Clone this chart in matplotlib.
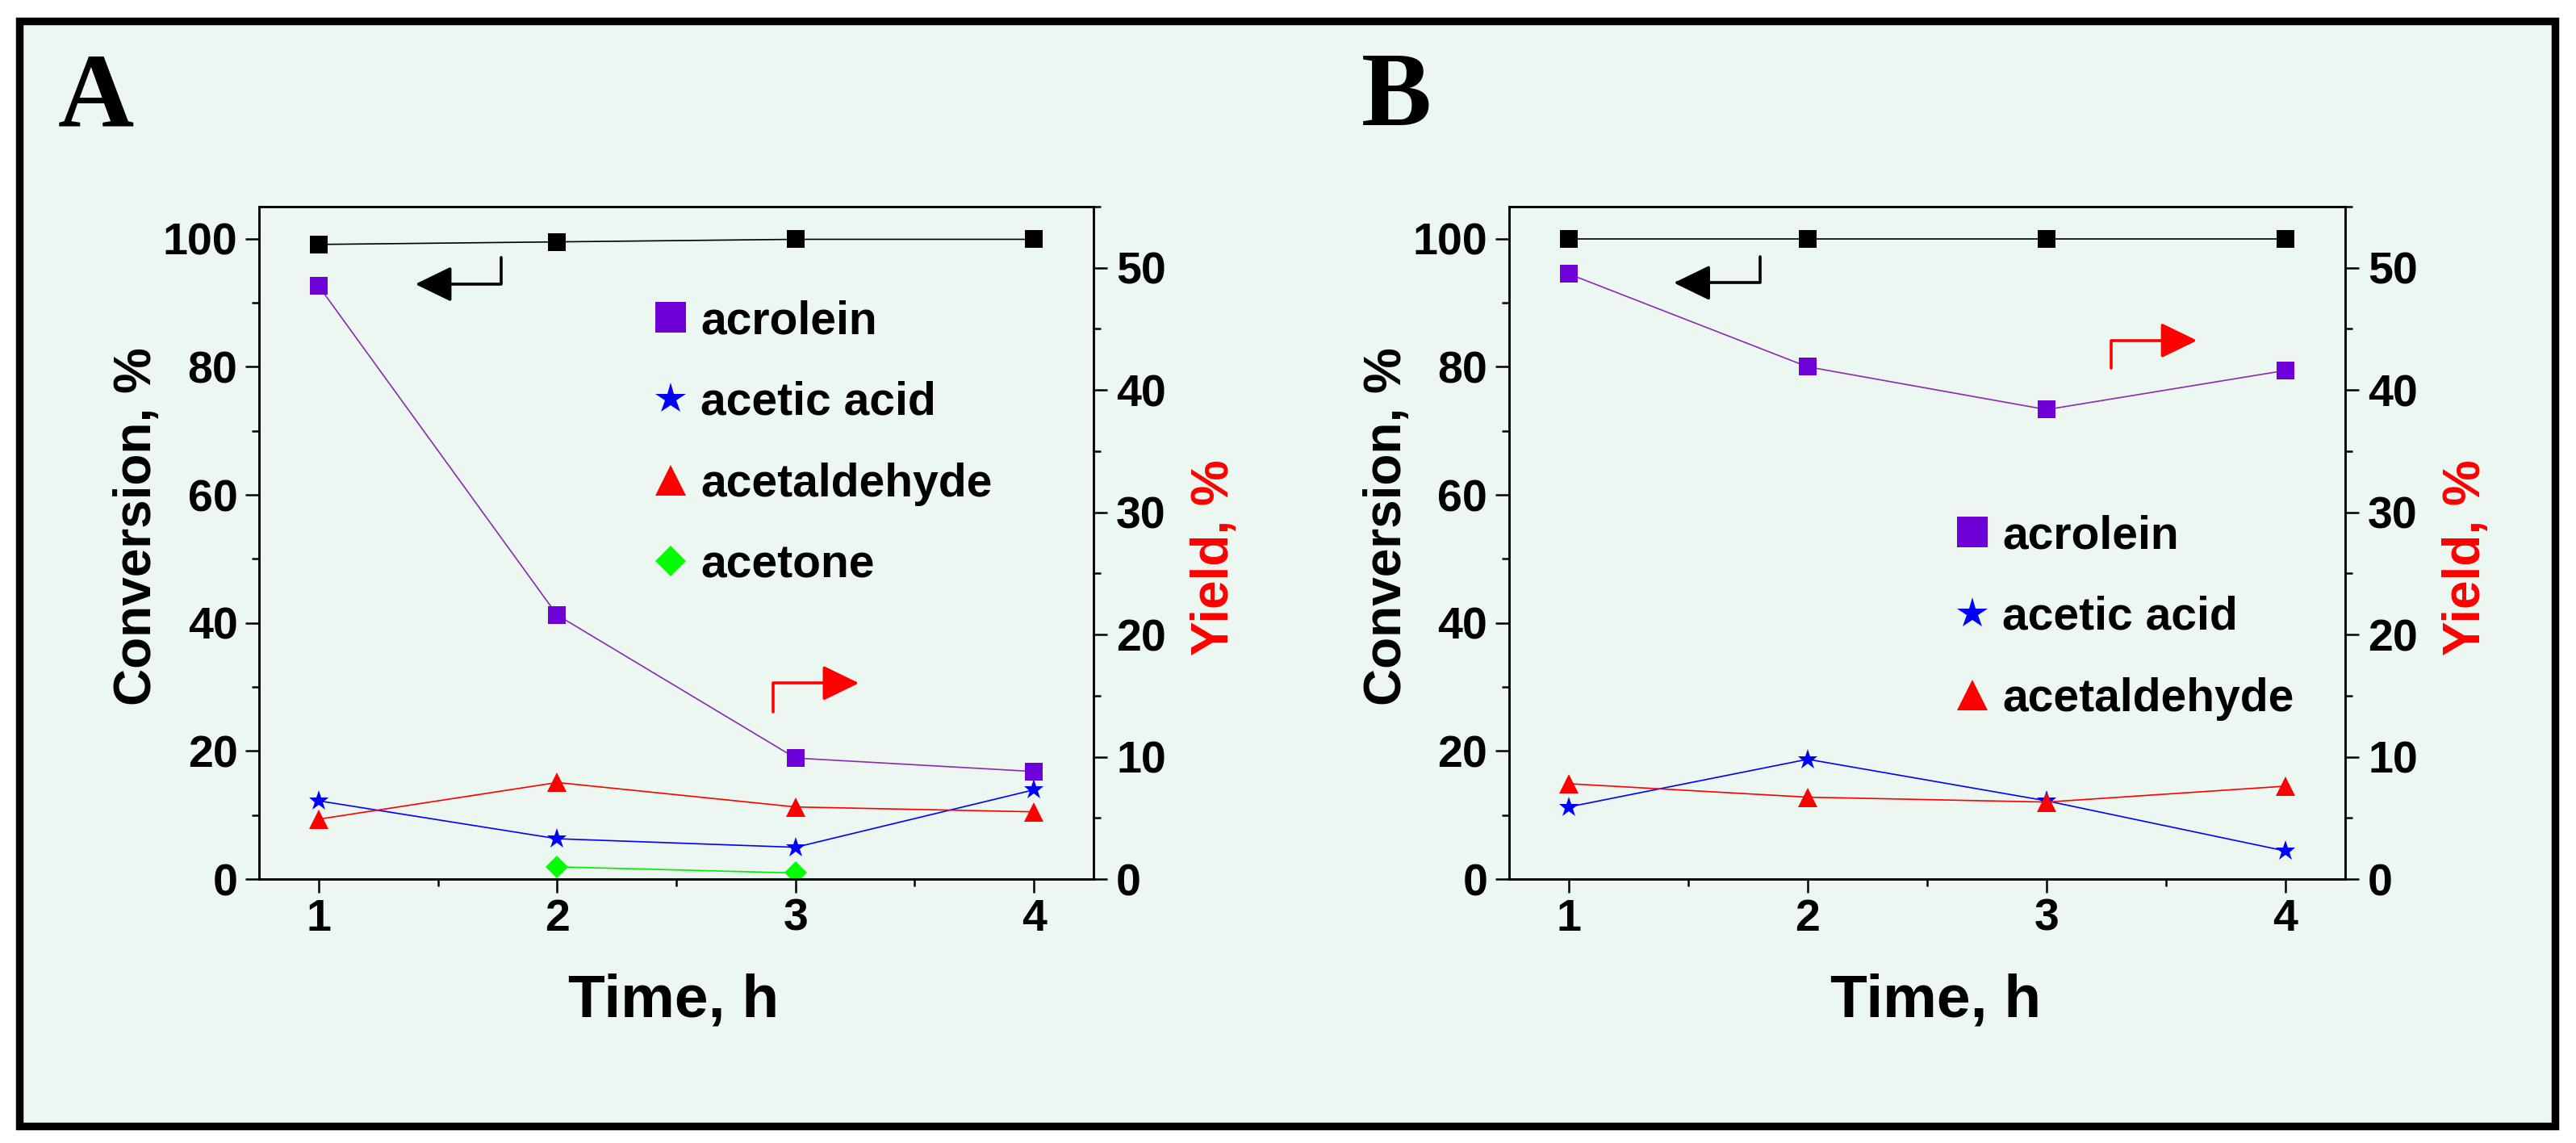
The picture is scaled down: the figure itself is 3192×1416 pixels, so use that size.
import matplotlib
matplotlib.use("Agg")
import matplotlib.pyplot as plt
from matplotlib.lines import Line2D
from matplotlib.patches import Rectangle
from matplotlib.ticker import MultipleLocator

# data
time_h = [1, 2, 3, 4]
acetone_time = [2, 3]

conv_a = [99.1, 99.5, 99.9, 99.9]
acrolein_a = [48.5, 21.6, 9.9, 8.8]
acetic_a = [6.4, 3.3, 2.6, 7.3]
acetald_a = [4.9, 7.9, 5.9, 5.5]
acetone_a = [1.0, 0.5]

conv_b = [100, 100, 100, 100]
acrolein_b = [49.5, 41.9, 38.4, 41.6]
acetic_b = [5.9, 9.8, 6.4, 2.3]
acetald_b = [7.8, 6.7, 6.3, 7.6]

labels_a = ["acrolein", "acetic acid", "acetaldehyde", "acetone"]
labels_b = ["acrolein", "acetic acid", "acetaldehyde"]

BG = "#EDF7F1"
PURPLE = "#6E00D8"
PURPLE_LINE = "#8A2BB0"
SANS = "Liberation Sans"

plt.rcParams["font.family"] = SANS
plt.rcParams["font.weight"] = "bold"

fig = plt.figure(figsize=(15.96, 7.08), dpi=200)
fig.patch.set_facecolor("white")
fig.patches.append(Rectangle((0.0075, 0.0148), 0.9844, 0.9668, transform=fig.transFigure,
                             facecolor=BG, edgecolor="black", linewidth=3.4, zorder=-10))


def style_axes(ax, ax2):
    for a in (ax, ax2):
        a.set_facecolor("none")
        for sp in a.spines.values():
            sp.set_linewidth(0.9)
    ax.set_xlim(0.75, 4.25)
    ax.set_ylim(0, 105)
    ax2.set_ylim(0, 55)
    ax.xaxis.set_major_locator(MultipleLocator(1))
    ax.xaxis.set_minor_locator(MultipleLocator(0.5))
    ax.yaxis.set_major_locator(MultipleLocator(20))
    ax.yaxis.set_minor_locator(MultipleLocator(10))
    ax2.yaxis.set_major_locator(MultipleLocator(10))
    ax2.yaxis.set_minor_locator(MultipleLocator(5))
    ax.tick_params(axis="both", which="major", direction="out", length=6.1, width=0.9,
                   labelsize=20)
    ax.tick_params(axis="both", which="minor", direction="out", length=3.2, width=0.9)
    ax.tick_params(axis="x", which="major", pad=2.5)
    ax.tick_params(axis="y", which="major", pad=3.5)
    ax2.tick_params(axis="y", which="major", direction="out", length=6.1, width=0.9,
                    labelsize=20, pad=4)
    ax2.tick_params(axis="y", which="minor", direction="out", length=3.2, width=0.9)
    for lab in ax.get_xticklabels() + ax.get_yticklabels() + ax2.get_yticklabels():
        lab.set_fontweight("bold")


def arrow(ax, x_stem, y_top, x_tip, y_line, color):
    # L-shaped pointer: vertical stem, then horizontal run ending in a head
    ax.annotate("", xy=(x_tip, y_line), xytext=(x_stem, y_top),
                arrowprops=dict(arrowstyle="-|>,head_length=0.7,head_width=0.34",
                                connectionstyle="angle,angleA=90,angleB=0,rad=0",
                                mutation_scale=20, color=color, lw=1.3,
                                shrinkA=0, shrinkB=0))


def panel(rect, conv, acro, acet, ald, acetone, labels, leg_xy, xlab_x):
    ax = fig.add_axes(rect)
    ax2 = ax.twinx()
    style_axes(ax, ax2)

    ax.plot(time_h, conv, color="black", lw=0.6, marker="s", ms=7.8, mew=0, zorder=3)
    ax2.plot(time_h, acro, color=PURPLE_LINE, lw=0.6, marker="s", ms=7.8,
             mfc=PURPLE, mec=PURPLE, mew=0)
    ax2.plot(time_h, acet, color="#0000FF", lw=0.6, marker="*", ms=9.4, mew=0)
    ax2.plot(time_h, ald, color="#FF0000", lw=0.6, marker="^", ms=8.8, mew=0)
    handles = [
        Line2D([], [], ls="none", marker="s", ms=14, mfc=PURPLE, mec=PURPLE, mew=0),
        Line2D([], [], ls="none", marker="*", ms=14.4, color="#0000FF", mew=0),
        Line2D([], [], ls="none", marker="^", ms=14, color="#FF0000", mew=0),
    ]
    if acetone is not None:
        ax2.plot(acetone_time, acetone, color="#00EE00", lw=0.6, marker="D", ms=6.9,
                 mfc="#00FF00", mew=0)
        handles.append(Line2D([], [], ls="none", marker="D", ms=9.7, color="#00FF00", mew=0))

    ax2.legend(handles, labels, loc="center left", bbox_to_anchor=leg_xy, frameon=False,
               handlelength=0.7, handletextpad=0.3, labelspacing=0.82, borderpad=0,
               borderaxespad=0, prop={"family": SANS, "weight": "bold", "size": 20.5})

    ax.set_xlabel("Time, h", fontsize=27, fontweight="bold")
    ax.xaxis.set_label_coords(xlab_x, -0.14)
    ax.set_ylabel("Conversion, %", fontsize=23, fontweight="bold")
    ax.yaxis.set_label_coords(-0.117, 0.525)
    ax2.set_ylabel("Yield, %", fontsize=23, fontweight="bold", color="#FF0000")
    ax2.yaxis.set_label_coords(1.116, 0.478)
    return ax


ax_a = panel([0.1006, 0.2309, 0.3239, 0.5883], conv_a, acrolein_a, acetic_a, acetald_a,
             acetone_a, labels_a, (0.474, 0.648), 0.497)
arrow(ax_a, 1.766, 97.1, 1.405, 92.9, "black")
arrow(ax_a, 2.905, 26.1, 3.266, 30.6, "#FF0000")

ax_b = panel([0.5858, 0.2309, 0.3246, 0.5883], conv_b, acrolein_b, acetic_b, acetald_b,
             None, labels_b, (0.535, 0.389), 0.51)
arrow(ax_b, 1.80, 97.2, 1.44, 93.1, "black")
arrow(ax_b, 3.27, 79.8, 3.63, 84.1, "#FF0000")

fig.text(72 / 3192, 1 - 156 / 1416, "A", family="Liberation Serif", fontweight="bold",
         fontsize=47, va="baseline", ha="left")
fig.text(1687 / 3192, 1 - 155 / 1416, "B", family="Liberation Serif", fontweight="bold",
         fontsize=47, va="baseline", ha="left")

fig.savefig("out.png", dpi=200, facecolor="white")
